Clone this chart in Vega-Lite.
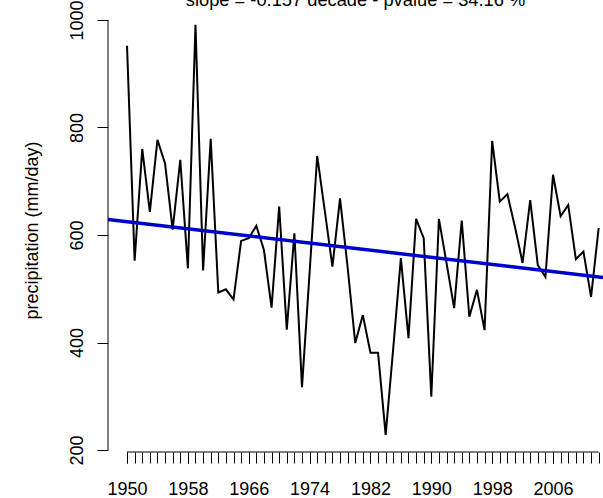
{
  "$schema": "https://vega.github.io/schema/vega-lite/v6.json",
  "width": 495,
  "height": 444,
  "autosize": {"type": "none"},
  "padding": {"left": 108, "top": 8, "right": 0, "bottom": 46},
  "background": "white",
  "view": {"stroke": null},
  "config": {"font": "Liberation Sans"},
  "title": {
    "text": "slope = -0.157 decade - pvalue = 34.16 %",
    "fontSize": 18.3,
    "fontWeight": "normal",
    "font": "Liberation Sans",
    "color": "black",
    "anchor": "middle",
    "baseline": "alphabetic",
    "offset": 0,
    "dy": 24
  },
  "resolve": {"axis": {"x": "independent"}},
  "datasets": {
    "precip": [
      {"year": 1950, "precip": 952}, {"year": 1951, "precip": 552}, {"year": 1952, "precip": 760},
      {"year": 1953, "precip": 643}, {"year": 1954, "precip": 777}, {"year": 1955, "precip": 733},
      {"year": 1956, "precip": 610}, {"year": 1957, "precip": 740}, {"year": 1958, "precip": 538},
      {"year": 1959, "precip": 991}, {"year": 1960, "precip": 534}, {"year": 1961, "precip": 779},
      {"year": 1962, "precip": 493}, {"year": 1963, "precip": 499}, {"year": 1964, "precip": 480},
      {"year": 1965, "precip": 589}, {"year": 1966, "precip": 594}, {"year": 1967, "precip": 617},
      {"year": 1968, "precip": 572}, {"year": 1969, "precip": 465}, {"year": 1970, "precip": 653},
      {"year": 1971, "precip": 424}, {"year": 1972, "precip": 603}, {"year": 1973, "precip": 317},
      {"year": 1974, "precip": 530}, {"year": 1975, "precip": 747}, {"year": 1976, "precip": 645},
      {"year": 1977, "precip": 541}, {"year": 1978, "precip": 668}, {"year": 1979, "precip": 540},
      {"year": 1980, "precip": 399}, {"year": 1981, "precip": 451}, {"year": 1982, "precip": 381},
      {"year": 1983, "precip": 381}, {"year": 1984, "precip": 228}, {"year": 1985, "precip": 390},
      {"year": 1986, "precip": 557}, {"year": 1987, "precip": 408}, {"year": 1988, "precip": 630},
      {"year": 1989, "precip": 594}, {"year": 1990, "precip": 299}, {"year": 1991, "precip": 630},
      {"year": 1992, "precip": 548}, {"year": 1993, "precip": 464}, {"year": 1994, "precip": 627},
      {"year": 1995, "precip": 448}, {"year": 1996, "precip": 498}, {"year": 1997, "precip": 423},
      {"year": 1998, "precip": 775}, {"year": 1999, "precip": 662}, {"year": 2000, "precip": 676},
      {"year": 2001, "precip": 615}, {"year": 2002, "precip": 548}, {"year": 2003, "precip": 665},
      {"year": 2004, "precip": 544}, {"year": 2005, "precip": 522}, {"year": 2006, "precip": 712},
      {"year": 2007, "precip": 635}, {"year": 2008, "precip": 656}, {"year": 2009, "precip": 555},
      {"year": 2010, "precip": 569}, {"year": 2011, "precip": 485}, {"year": 2012, "precip": 613}
    ],
    "trend": [
      {"year": 1947.5, "trend": 629},
      {"year": 2012.57, "trend": 521}
    ]
  },
  "layer": [
    {
      "data": {"name": "precip"},
      "mark": {"type": "line", "color": "black", "strokeWidth": 2},
      "encoding": {
        "x": {
          "field": "year",
          "type": "quantitative",
          "scale": {"domain": [1947.5, 2012.57], "nice": false, "zero": false},
          "axis": {
            "orient": "bottom",
            "title": null,
            "values": [1950,1951,1952,1953,1954,1955,1956,1957,1958,1959,1960,1961,1962,1963,1964,1965,1966,1967,1968,1969,1970,1971,1972,1973,1974,1975,1976,1977,1978,1979,1980,1981,1982,1983,1984,1985,1986,1987,1988,1989,1990,1991,1992,1993,1994,1995,1996,1997,1998,1999,2000,2001,2002,2003,2004,2005,2006,2007,2008,2009,2010,2011,2012],
            "labels": false,
            "domain": false,
            "grid": false,
            "tickSize": 11,
            "tickColor": "black",
            "tickWidth": 1
          }
        },
        "y": {
          "field": "precip",
          "type": "quantitative",
          "scale": {"domain": [196.3, 1022.3], "nice": false, "zero": false},
          "axis": {
            "title": "precipitation (mm/day)",
            "titleFontSize": 18,
            "titleFont": "Liberation Sans",
            "titleFontWeight": "normal",
            "titleColor": "black",
            "titlePadding": 27,
            "values": [200, 400, 600, 800, 1000],
            "format": "d",
            "labelAngle": -90,
            "labelAlign": "center",
            "labelBaseline": "alphabetic",
            "labelPadding": 15,
            "labelFontSize": 18,
            "labelFont": "Liberation Sans",
            "labelColor": "black",
            "labelFlush": false,
            "labelOverlap": false,
            "labelBound": false,
            "domain": false,
            "grid": false,
            "tickSize": 11,
            "tickColor": "black",
            "tickWidth": 1
          }
        }
      }
    },
    {
      "data": {"name": "trend"},
      "mark": {"type": "line", "color": "#0000CC", "strokeWidth": 3.5},
      "encoding": {
        "x": {
          "field": "year",
          "type": "quantitative",
          "axis": {
            "orient": "bottom",
            "title": null,
            "values": [1950, 1958, 1966, 1974, 1982, 1990, 1998, 2006],
            "format": "d",
            "domain": false,
            "grid": false,
            "tickSize": 11,
            "tickColor": "black",
            "tickWidth": 1,
            "labelFontSize": 18,
            "labelFont": "Liberation Sans",
            "labelColor": "black",
            "labelPadding": 31,
            "labelBaseline": "alphabetic",
            "labelFlush": false,
            "labelOverlap": false,
            "labelBound": false
          }
        },
        "y": {"field": "trend", "type": "quantitative"}
      }
    },
    {
      "data": {"values": [{}]},
      "mark": {"type": "rule", "color": "black", "strokeWidth": 1},
      "encoding": {
        "x": {"datum": 1950, "type": "quantitative", "axis": null},
        "x2": {"datum": 2012},
        "y": {"datum": 196.3, "type": "quantitative"}
      }
    },
    {
      "data": {"values": [{}]},
      "mark": {"type": "rule", "color": "black", "strokeWidth": 1},
      "encoding": {
        "x": {"datum": 1947.5, "type": "quantitative", "axis": null},
        "y": {"datum": 200, "type": "quantitative"},
        "y2": {"datum": 1000}
      }
    }
  ]
}
